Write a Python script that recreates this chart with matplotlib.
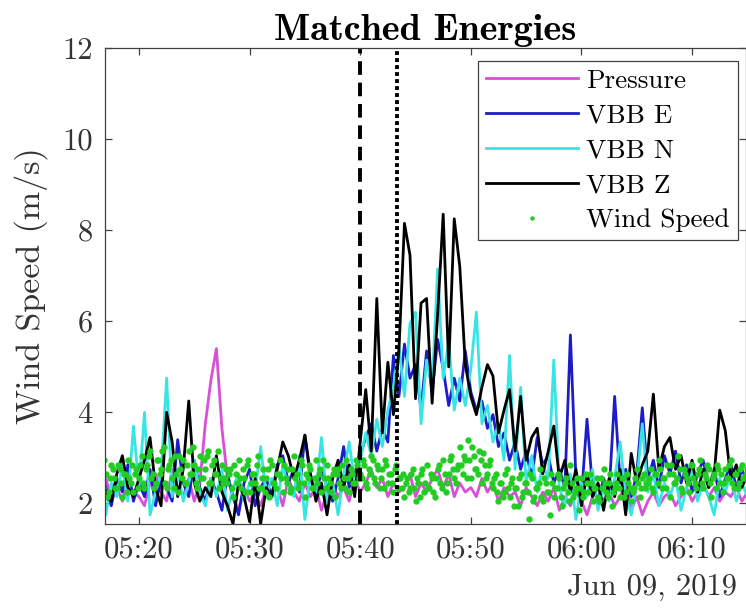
import matplotlib
matplotlib.use("Agg")
import matplotlib.pyplot as plt
import matplotlib.dates as mdates
import numpy as np
import pandas as pd

plt.rcParams['font.family'] = ['cmr10', 'DejaVu Serif']
plt.rcParams['mathtext.fontset'] = 'cm'
plt.rcParams['axes.unicode_minus'] = False

# seismometer / pressure energies, one sample every 30 s from 05:14:00
pressure = [2.15, 2.45, 2.05, 2.35, 2.25, 1.95, 2.55, 2.15, 2.35, 2.05, 2.45, 2.25,
            2.15, 1.95, 2.45, 2.65, 2.25, 2.05, 2.75, 2.35, 2.15, 2.55, 2.05, 2.45,
            3.75, 4.7, 5.4, 3.65, 2.55, 2.15, 1.85, 2.35, 2.05, 2.25, 1.95, 2.35,
            2.15, 2.35, 1.95, 2.55, 2.25, 2.05, 2.45, 2.15, 2.35, 1.85, 2.25, 2.45,
            2.15, 2.35, 2.05, 2.55, 2.25, 2.45, 2.75, 2.35, 2.55, 2.15, 2.45, 2.25,
            2.35, 2.65, 2.15, 2.45, 2.25, 2.55, 2.75, 2.35, 2.65, 2.15, 2.45, 2.25,
            2.35, 2.15, 2.55, 2.25, 2.45, 2.05, 2.35, 2.15, 2.25, 1.95, 2.35, 2.15,
            1.95, 2.25, 2.05, 2.35, 1.85, 2.15, 1.95, 2.25, 2.05, 1.75, 2.15, 2.35,
            2.05, 2.25, 1.95, 2.15, 2.45, 1.85, 2.15, 1.75, 2.05, 2.25, 1.95, 2.15,
            2.25, 1.95, 2.15, 2.35, 2.05, 2.25, 2.45, 2.15, 2.35, 2.05, 2.25, 2.15,
            2.35, 2.05, 2.25]
vbb_e = [2.25, 2.65, 1.85, 2.45, 2.15, 2.75, 2.35, 1.95, 2.55, 2.25, 2.85, 2.05,
         2.45, 2.15, 2.75, 1.95, 2.55, 2.35, 2.05, 3.4, 2.45, 2.15, 2.95, 2.35,
         2.05, 2.55, 2.25, 1.85, 2.65, 2.15, 1.75, 2.45, 2.75, 1.95, 2.35, 2.55,
         2.15, 2.85, 3.05, 2.45, 2.75, 2.25, 3.5, 2.55, 2.15, 2.75, 2.35, 2.05,
         2.55, 3.25, 2.35, 2.65, 3.05, 3.45, 3.75, 3.15, 3.65, 3.35, 5.25, 4.35,
         5.5, 4.75, 5.05, 4.05, 5.35, 4.45, 5.6, 4.95, 4.15, 4.75, 4.25, 5.35,
         4.45, 4.05, 4.25, 3.65, 3.95, 3.25, 3.55, 2.95, 3.35, 2.75, 3.15, 2.55,
         3.45, 2.85, 3.05, 2.45, 2.75, 2.35, 5.7, 2.55, 2.15, 3.85, 2.35, 2.05,
         2.55, 2.25, 4.35, 2.45, 2.75, 2.15, 2.65, 4.1, 2.55, 2.95, 2.35, 3.05,
         2.65, 3.15, 2.45, 2.85, 2.25, 2.65, 2.95, 2.35, 2.75, 2.15, 2.55, 2.85,
         2.35, 2.75, 2.45]
vbb_n = [2.75, 1.65, 2.35, 2.95, 1.95, 2.55, 1.75, 2.45, 2.15, 2.85, 2.05, 3.7,
         2.35, 4.0, 1.75, 2.25, 2.65, 4.75, 2.15, 2.75, 2.05, 2.45, 2.95, 2.25,
         1.95, 2.55, 2.15, 2.75, 1.85, 2.35, 2.65, 2.05, 2.45, 2.25, 3.25, 2.15,
         2.55, 1.95, 2.85, 2.35, 2.15, 3.05, 1.65, 2.65, 2.25, 3.45, 2.05, 2.45,
         1.75, 2.65, 3.35, 2.45, 2.95, 3.55, 3.05, 3.85, 3.25, 4.05, 4.55, 5.45,
         4.35, 5.95, 6.2, 3.75, 5.15, 4.55, 7.15, 4.75, 5.55, 4.05, 4.75, 4.15,
         4.95, 6.2, 3.75, 4.15, 3.35, 3.75, 2.95, 5.25, 2.75, 4.55, 2.45, 3.05,
         2.25, 2.85, 2.55, 5.15, 2.35, 1.95, 2.65, 1.65, 2.45, 2.15, 2.75, 1.85,
         2.35, 2.05, 2.55, 3.35, 2.15, 1.75, 2.45, 3.75, 2.25, 2.65, 1.95, 2.45,
         2.15, 2.55, 1.85, 2.35, 2.75, 2.05, 2.45, 2.15, 1.75, 2.55, 2.25, 2.65,
         2.05, 2.45, 2.15]
vbb_z = [2.45, 1.95, 2.55, 2.25, 2.75, 3.15, 2.15, 2.05, 2.65, 3.05, 2.35, 2.15,
         2.55, 2.95, 3.45, 2.35, 1.95, 4.0, 3.35, 2.15, 2.75, 4.25, 2.45, 2.05,
         2.35, 2.15, 3.05, 2.25, 1.95, 1.55, 2.45, 2.15, 1.6, 2.55, 1.55, 2.35,
         2.15, 2.75, 3.35, 3.05, 2.55, 2.95, 3.5, 2.65, 2.05, 2.45, 1.75, 2.55,
         2.95, 2.35, 2.85, 2.15, 3.35, 4.5, 3.15, 6.5, 3.55, 5.1, 3.95, 5.35,
         8.15, 7.45, 4.3, 6.4, 6.5, 4.2, 6.15, 8.35, 5.0, 8.25, 7.2, 5.05,
         4.35, 3.95, 4.55, 5.05, 4.8, 3.55, 4.05, 4.5, 3.15, 4.35, 2.95, 3.45,
         3.65, 2.65, 3.15, 3.7, 2.55, 2.95, 2.25, 2.75, 1.95, 2.65, 2.15, 2.45,
         1.85, 2.55, 2.15, 2.75, 1.75, 3.1, 2.45, 2.85, 3.15, 4.4, 2.75, 3.25,
         3.45, 2.75, 3.05, 2.45, 2.95, 2.25, 2.75, 2.35, 2.65, 4.05, 3.6, 2.55,
         2.85, 2.35, 2.65]

# wind speed, every 15 s from 05:14:00 ...
wind_a = [2.45, 2.85, 2.25, 2.65, 2.95, 2.35, 2.55, 2.15, 2.75, 2.45,
          3.05, 2.35, 2.65, 2.25, 2.85, 2.55, 2.35, 2.75, 2.15, 2.65,
          2.95, 2.45, 2.25, 2.75,
          2.55, 3.05, 2.35, 2.85, 3.15, 2.65, 2.45, 2.95, 2.75, 3.25,
          2.35, 2.85, 2.55, 3.05, 2.25, 2.75, 2.95, 2.45, 3.15, 2.65,
          2.85, 2.35, 3.05, 2.55, 2.75, 3.15, 2.45, 2.95, 2.65, 2.35,
          2.85, 2.55,
          2.45, 2.75, 2.15, 2.65, 2.95, 2.35, 2.55, 2.85, 2.25, 2.65,
          2.45, 3.05, 2.35, 2.75, 2.55, 2.15, 2.85, 2.45, 2.65, 2.95,
          2.25, 2.55, 2.75, 2.35, 3.05, 2.65, 2.45, 2.85, 2.15, 2.55,
          2.75, 2.35, 2.95, 2.65, 2.25, 2.55, 2.85, 2.45, 2.65, 2.15,
          2.75, 2.35, 2.55, 2.95, 2.25, 2.65, 2.45, 2.85,
          2.65, 2.95, 2.45, 2.75, 3.05, 2.55, 2.85, 2.35, 2.75, 2.95,
          2.45, 2.65, 2.25, 2.85, 2.55, 2.35,
          2.15, 2.55, 2.35, 2.75, 2.05, 2.45, 2.65, 2.25, 2.85, 2.35,
          2.55, 2.15, 2.75, 2.45, 2.95, 2.25, 2.65, 3.05, 2.55, 2.75,
          3.25, 2.65, 2.95, 3.4, 2.55, 3.05, 2.75, 3.15, 2.45, 2.85,
          2.65, 2.95,
          2.35, 2.65, 2.05, 2.45, 2.25, 2.75, 2.15, 2.55, 2.35, 1.95,
          2.65, 2.25, 2.45, 1.65, 2.55, 2.15, 2.35, 2.75, 2.05, 2.45,
          2.25, 2.65, 2.15, 2.35, 2.55, 1.95, 2.45, 2.25, 2.85, 2.15,
          2.35, 1.85, 2.55, 2.25, 2.45, 2.65, 2.05, 2.35, 2.15, 2.55,
          2.75, 2.25, 2.45, 1.95, 2.35, 2.65, 2.15, 2.55, 2.25, 2.45,
          2.05, 2.35, 2.75, 2.15, 2.55, 2.35,
          2.45, 2.75, 2.25, 2.65, 2.95, 2.35, 2.55, 2.85, 2.15, 2.65,
          2.45, 3.05, 2.35, 2.75, 2.55, 2.25, 2.85, 2.45, 2.65, 2.95,
          2.35, 2.55, 2.75, 2.15, 2.65, 2.85, 2.45, 2.25, 2.75, 2.55,
          2.95, 2.35, 2.65, 2.45, 2.85, 2.55, 2.75]
# ... and the samples in between (05:14:07.5 onwards)
wind_b = [2.65, 2.35, 2.95, 2.45, 2.25, 2.75, 2.55, 2.85, 2.35, 2.65,
          2.45, 2.95, 2.15, 2.55, 2.75, 2.35, 2.85, 2.45, 2.65, 2.25,
          2.55, 2.85, 2.65, 2.35,
          2.85, 2.45, 2.75, 3.05, 2.55, 2.35, 2.95, 2.65, 3.15, 2.45,
          2.75, 2.95, 2.35, 2.65, 3.05, 2.55, 2.45, 2.85, 2.65, 3.25,
          2.45, 2.75, 2.55, 2.95, 3.05, 2.45, 2.85, 2.65, 3.15, 2.55,
          2.45, 2.75,
          2.65, 2.35, 2.85, 2.45, 2.55, 2.75, 2.25, 2.95, 2.45, 2.65,
          2.85, 2.35, 2.55, 2.25, 2.75, 2.95, 2.45, 2.35, 2.65, 2.55,
          2.85, 2.45, 2.25, 2.75, 2.55, 2.35, 2.95, 2.45, 2.65, 2.85,
          2.35, 2.55, 2.45, 2.75, 2.95, 2.35, 2.55, 2.25, 2.75, 2.65,
          2.45, 2.85, 2.35, 2.55, 2.75, 2.45, 2.95, 2.55,
          2.55, 2.85, 2.35, 2.65, 2.95, 2.45, 2.75, 2.55, 2.35, 2.85,
          2.65, 2.45, 2.75, 2.35, 2.55, 2.65,
          2.45, 2.25, 2.65, 2.35, 2.55, 2.15, 2.75, 2.45, 2.35, 2.65,
          2.25, 2.55, 2.85, 2.35, 2.65, 2.45, 2.95, 2.75, 2.45, 2.85,
          2.85, 3.05, 2.55, 2.95, 3.25, 2.75, 2.65, 2.95, 3.1, 2.55,
          2.85, 2.45,
          2.55, 2.25, 2.45, 2.15, 2.65, 2.35, 2.45, 1.95, 2.35, 2.55,
          2.15, 2.45, 2.25, 2.65, 2.05, 2.35, 2.45, 2.15, 2.55, 2.25,
          1.75, 2.45, 2.35, 2.65, 2.15, 2.35, 2.55, 2.05, 2.45, 2.25,
          2.55, 2.35, 2.15, 2.65, 2.25, 2.45, 2.35, 2.55, 2.05, 2.35,
          2.45, 2.15, 2.65, 2.25, 2.45, 2.35, 2.55, 2.15, 2.65, 2.35,
          2.25, 2.55, 2.45, 2.35, 2.65, 2.45,
          2.55, 2.35, 2.65, 2.45, 2.75, 2.55, 2.35, 2.65, 2.85, 2.45,
          2.55, 2.75, 2.25, 2.65, 2.45, 2.85, 2.55, 2.35, 2.75, 2.45,
          2.65, 2.85, 2.45, 2.55, 2.35, 2.75, 2.65, 2.45, 2.55, 2.85,
          2.45, 2.65, 2.35, 2.75, 2.55, 2.65, 2.45]

t_lines = pd.date_range('2019-06-09 05:14:00', periods=len(vbb_z), freq='30s').to_numpy()
t_wind_a = pd.date_range('2019-06-09 05:14:00', periods=len(wind_a), freq='15s').to_numpy()
t_wind_b = pd.date_range('2019-06-09 05:14:07.5', periods=len(wind_b), freq='15s').to_numpy()
t_wind = np.concatenate([t_wind_a, t_wind_b])
wind = np.concatenate([wind_a, wind_b])
t_dashed = np.datetime64('2019-06-09T05:40:00')
t_dotted = np.datetime64('2019-06-09T05:43:20')

fig = plt.figure(figsize=(7.46, 6.08), dpi=100)
ax = fig.add_axes([0.1408, 0.1382, 0.8586, 0.7829])

lw = 2.0
ax.plot(t_lines, pressure, color='#d84fd8', lw=lw, label='Pressure')
ax.plot(t_lines, vbb_e, color='#1c1cc8', lw=lw, label='VBB E')
ax.plot(t_lines, vbb_n, color='#38e4e4', lw=lw, label='VBB N')
ax.plot(t_lines, vbb_z, color='black', lw=lw, label='VBB Z')
ax.plot(t_wind, wind, ls='none', marker='o', ms=4.6, mec='none',
        color='#22cc22', label='Wind Speed')

ax.axvline(t_dashed, color='black', lw=2.8, ls=(0, (3.5, 2.0)))
ax.axvline(t_dotted, color='black', lw=2.8, ls=(0, (1, 0.8)))

ax.set_xlim(np.datetime64('2019-06-09T05:16:56'), np.datetime64('2019-06-09T06:14:50'))
ax.set_ylim(1.55, 12)
ax.set_yticks([2, 4, 6, 8, 10, 12])
ax.xaxis.set_major_locator(mdates.MinuteLocator(byminute=[0, 10, 20, 30, 40, 50]))
ax.xaxis.set_major_formatter(mdates.DateFormatter('%H:%M'))

axc = '#404040'
for s in ax.spines.values():
    s.set_color(axc)
    s.set_linewidth(0.9)
ax.tick_params(direction='in', length=5, width=0.9, colors=axc, labelsize=22,
               top=True, right=True, pad=9)
for lab in ax.get_xticklabels() + ax.get_yticklabels():
    lab.set_color('#333333')

ax.set_ylabel('Wind Speed (m/s)', fontsize=24.5, color='#333333', labelpad=10)
ax.set_title('Matched Energies', fontsize=27.5, family='cmb10', pad=6)
fig.text(0.988, 0.012, 'Jun 09, 2019', ha='right', va='bottom', fontsize=22, color='#333333')

leg = ax.legend(loc='upper right', bbox_to_anchor=(0.988, 0.973), borderaxespad=0,
                fontsize=19.5, handlelength=3.4, handletextpad=0.3, labelspacing=0.4,
                borderpad=0.3, fancybox=False, framealpha=1, edgecolor=axc,
                markerscale=0.7)
leg.get_frame().set_linewidth(0.9)

plt.savefig('out.png', dpi=100)
